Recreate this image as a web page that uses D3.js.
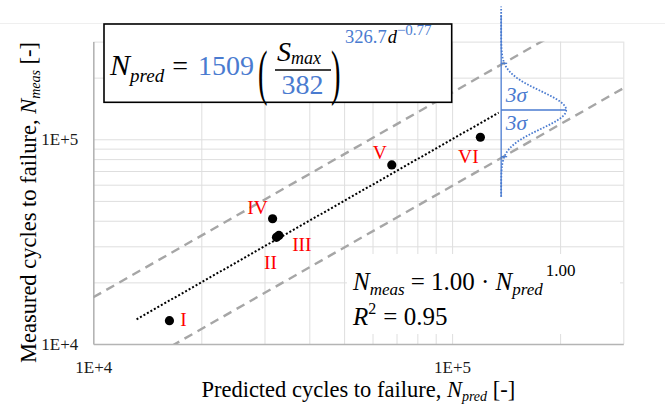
<!DOCTYPE html>
<html>
<head>
<meta charset="utf-8">
<script src="https://cdn.jsdelivr.net/npm/d3@7"></script>
<style>
  body { margin: 0; background: #fff; }
  svg { display: block; font-family: "Liberation Serif", serif; }
  .grid line { stroke: #dedede; }
  .grid .domain { display: none; }
</style>
</head>
<body>
<svg id="chart" width="665" height="410"></svg>
<script>

// specimens, predicted vs measured cycles
const specimens = ["I", "II", "III", "IV", "V", "VI"];
const predictedCycles = [16300, 32400, 32900, 31600, 67900, 119900];
const measuredCycles = [13000, 33200, 33900, 40900, 74900, 102300];

// axes
const axisDomain = [1e4, 3e5];
const labelTicks = [1e4, 1e5];
const gridTicks = [2e4, 3e4, 4e4, 5e4, 6e4, 7e4, 8e4, 9e4, 1e5, 2e5, 3e5];

// power fit Nmeas = a * Npred^b
const fitCoef = 1.00;
const fitExp = 1.00;
const fitR2 = 0.95;
const trendRange = [13200, 134800];

// scatter band in log10 decades, plus the bell sketch
const threeSigma = 0.228;
const bellSigma = 0.093;
const bellX = 137000;
const bellCenter = 139000;
const bellPeak = 208000;
const bellSpan = [52400, 445000];
const bellAxis = [52400, 405000];

// model  Npred = A (Smax / S0)^(C d^D)
const modelA = 1509;
const modelS0 = 382;
const modelC = 326.7;
const modelD = -0.77;


// ========== MAIN CODE ==========

const blue = "#4a7bd0";
const svg = d3.select("#chart");

const plot = { left: 93.3, right: 623.3, top: 41.6, bottom: 344 };

const x = d3.scaleLog().domain(axisDomain).range([plot.left, plot.right]);
const y = d3.scaleLog().domain(axisDomain).range([plot.bottom, plot.top]);

// faint frame line on top
svg.append("line")
    .attr("x1", 0).attr("x2", 665)
    .attr("y1", 23.5).attr("y2", 23.5)
    .attr("stroke", "#efefef");

// grid
svg.append("g")
    .attr("class", "grid")
    .attr("transform", "translate(0," + plot.bottom + ")")
    .call(d3.axisBottom(x).tickValues(gridTicks)
        .tickSize(-(plot.bottom - plot.top)).tickFormat(""));

svg.append("g")
    .attr("class", "grid")
    .attr("transform", "translate(" + plot.left + ",0)")
    .call(d3.axisLeft(y).tickValues(gridTicks)
        .tickSize(-(plot.right - plot.left)).tickFormat(""));

// white text box of the fit covers the grid
svg.append("rect")
    .attr("x", 347).attr("y", 254)
    .attr("width", 273).attr("height", 80)
    .attr("fill", "#fff");

// axes
const fmt = d => "1E+" + Math.round(Math.log10(d));

const xAxis = svg.append("g")
    .attr("transform", "translate(0," + plot.bottom + ")")
    .call(d3.axisBottom(x).tickValues(labelTicks).tickSize(0)
        .tickSizeOuter(0).tickPadding(17).tickFormat(fmt));

const yAxis = svg.append("g")
    .attr("transform", "translate(" + plot.left + ",0)")
    .call(d3.axisLeft(y).tickValues(labelTicks).tickSize(0)
        .tickSizeOuter(0).tickPadding(15).tickFormat(fmt));

[xAxis, yAxis].forEach(a => {
    a.select(".domain").attr("stroke", "#b4b4b4").attr("stroke-width", 1.6);
    a.selectAll("text")
        .attr("font-family", "Liberation Serif")
        .attr("font-size", 17)
        .attr("fill", "#1a1a1a");
});

// clip for lines
svg.append("clipPath").attr("id", "plotClip")
    .append("rect")
    .attr("x", plot.left).attr("y", plot.top)
    .attr("width", plot.right - plot.left)
    .attr("height", plot.bottom - plot.top);

const line = d3.line().x(d => x(d[0])).y(d => y(d[1]));

// +-3 sigma band
[threeSigma, -threeSigma].forEach(s => {
    const f = Math.pow(10, s);
    svg.append("path")
        .attr("d", line(axisDomain.map(v => [v, v * f])))
        .attr("clip-path", "url(#plotClip)")
        .attr("fill", "none")
        .attr("stroke", "#a6a6a6")
        .attr("stroke-width", 2.4)
        .attr("stroke-dasharray", "9,6");
});

// trend line
svg.append("path")
    .attr("d", line(trendRange.map(v => [v, fitCoef * Math.pow(v, fitExp)])))
    .attr("fill", "none")
    .attr("stroke", "#000")
    .attr("stroke-width", 2)
    .attr("stroke-dasharray", "2,2");

// points
const data = specimens.map((name, i) => ({
    name: name, pred: predictedCycles[i], meas: measuredCycles[i]
}));

svg.append("g").selectAll("circle")
    .data(data)
    .enter().append("circle")
    .attr("cx", d => x(d.pred))
    .attr("cy", d => y(d.meas))
    .attr("r", 4.6)
    .attr("fill", "#000");

// roman labels, offsets in px
const labelOffsets = [[14, -1], [-6, 25], [23, 9], [-15, -12], [-12, -13], [-12, 19]];

svg.append("g").selectAll("text")
    .data(data)
    .enter().append("text")
    .attr("x", (d, i) => x(d.pred) + labelOffsets[i][0])
    .attr("y", (d, i) => y(d.meas) + labelOffsets[i][1])
    .attr("dy", "0.35em")
    .attr("text-anchor", "middle")
    .attr("font-size", 19.5)
    .attr("fill", "#ff0000")
    .text(d => d.name);

// bell curve sketch
const lx = Math.log10(bellX), lc = Math.log10(bellCenter), lp = Math.log10(bellPeak);
const ySteps = d3.range(0, 161).map(i =>
    Math.log10(bellSpan[0]) + (Math.log10(bellSpan[1]) - Math.log10(bellSpan[0])) * i / 160);
const bellPts = ySteps.map(ly => {
    const g = Math.exp(-Math.pow(ly - lc, 2) / (2 * bellSigma * bellSigma));
    return [Math.pow(10, lx + (lp - lx) * g), Math.pow(10, ly)];
});

svg.append("path")
    .attr("d", line(bellPts))
    .attr("fill", "none")
    .attr("stroke", blue)
    .attr("stroke-width", 1.8)
    .attr("stroke-dasharray", "1.6,1.6");

svg.append("line")
    .attr("x1", x(bellX)).attr("x2", x(bellX))
    .attr("y1", y(bellAxis[1])).attr("y2", y(bellAxis[0]))
    .attr("stroke", blue).attr("stroke-width", 1.3);

svg.append("line")
    .attr("x1", x(bellX)).attr("x2", x(bellPeak))
    .attr("y1", y(bellCenter)).attr("y2", y(bellCenter))
    .attr("stroke", blue).attr("stroke-width", 1.3);

[threeSigma, -threeSigma].forEach(s => {
    const yy = y(bellCenter * Math.pow(10, s));
    svg.append("line")
        .attr("x1", x(bellX)).attr("x2", x(bellX) + 6)
        .attr("y1", yy).attr("y2", yy)
        .attr("stroke", blue).attr("stroke-width", 1.3);
});

[101.5, 130].forEach(by => {
    svg.append("text")
        .attr("x", x(bellX) + 4.5)
        .attr("y", by)
        .attr("font-size", 21.5)
        .attr("font-style", "italic")
        .attr("fill", blue)
        .text("3σ");
});

// model formula box
svg.append("rect")
    .attr("x", 104).attr("y", 24)
    .attr("width", 347.7).attr("height", 78.3)
    .attr("fill", "#fff")
    .attr("stroke", "#000")
    .attr("stroke-width", 1.6);

const f1 = svg.append("text").attr("x", 110).attr("y", 75).attr("font-size", 28);
f1.append("tspan").attr("font-style", "italic").attr("font-size", 30).text("N");
f1.append("tspan").attr("font-style", "italic").attr("font-size", 19).attr("dy", 7).text("pred");
f1.append("tspan").attr("dy", -7).attr("dx", 8).text("=");
f1.append("tspan").attr("dx", 10).attr("fill", blue).text(modelA);

svg.append("text")
    .attr("transform", "translate(258,93) scale(0.95,2.05)")
    .attr("font-size", 30)
    .text("(");
svg.append("text")
    .attr("transform", "translate(331,93) scale(0.95,2.05)")
    .attr("font-size", 30)
    .text(")");

const fr = svg.append("text").attr("x", 277).attr("y", 61).attr("font-size", 28).attr("font-style", "italic");
fr.append("tspan").text("S");
fr.append("tspan").attr("font-size", 18).attr("dy", 2.5).text("max");

svg.append("line")
    .attr("x1", 275).attr("x2", 331)
    .attr("y1", 70).attr("y2", 70)
    .attr("stroke", "#000").attr("stroke-width", 1.5);

svg.append("text")
    .attr("x", 302.5).attr("y", 93.5)
    .attr("text-anchor", "middle")
    .attr("font-size", 28)
    .attr("fill", blue)
    .text(modelS0);

const ex = svg.append("text").attr("x", 345).attr("y", 43).attr("font-size", 18.5);
ex.append("tspan").attr("fill", blue).text(modelC);
ex.append("tspan").attr("font-style", "italic").attr("dx", 1).text("d");
ex.append("tspan").attr("fill", blue).attr("font-size", 15).attr("dy", -8)
    .text("\u2212" + Math.abs(modelD).toFixed(2));

// fit equation
const e1 = svg.append("text").attr("x", 353).attr("y", 290).attr("font-size", 25);
e1.append("tspan").attr("font-style", "italic").text("N");
e1.append("tspan").attr("font-style", "italic").attr("font-size", 17).attr("dy", 5).text("meas");
e1.append("tspan").attr("dy", -5).attr("dx", 6).text("= " + fitCoef.toFixed(2) + " \u00b7 ");
e1.append("tspan").attr("font-style", "italic").text("N");
e1.append("tspan").attr("font-style", "italic").attr("font-size", 17).attr("dy", 5).text("pred");
e1.append("tspan").attr("font-size", 17).attr("dy", -19).attr("dx", 3).text(fitExp.toFixed(2));

const e2 = svg.append("text").attr("x", 353).attr("y", 325).attr("font-size", 25);
e2.append("tspan").attr("font-style", "italic").text("R");
e2.append("tspan").attr("font-size", 16).attr("dy", -11).text("2");
e2.append("tspan").attr("dy", 11).attr("dx", 7).text("= " + fitR2.toFixed(2));

// axis titles
const xt = svg.append("text")
    .attr("x", (plot.left + plot.right) / 2).attr("y", 396.5)
    .attr("text-anchor", "middle")
    .attr("font-size", 22.5);
xt.append("tspan").text("Predicted cycles to failure, ");
xt.append("tspan").attr("font-style", "italic").text("N");
xt.append("tspan").attr("font-style", "italic").attr("font-size", 14).attr("dy", 4).text("pred");
xt.append("tspan").attr("dy", -4).text(" [-]");

const yt = svg.append("text")
    .attr("transform", "translate(36,202.5) rotate(-90)")
    .attr("text-anchor", "middle")
    .attr("font-size", 22.5);
yt.append("tspan").text("Measured cycles to failure, ");
yt.append("tspan").attr("font-style", "italic").text("N");
yt.append("tspan").attr("font-style", "italic").attr("font-size", 14).attr("dy", 4).text("meas");
yt.append("tspan").attr("dy", -4).text(" [-]");

</script>
</body>
</html>
